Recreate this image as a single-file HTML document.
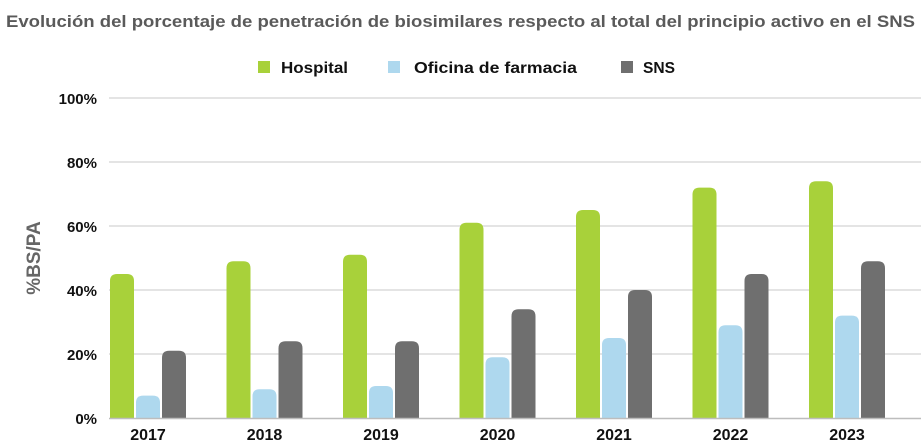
<!DOCTYPE html>
<html><head><meta charset="utf-8"><style>
body{margin:0;background:#fff;width:921px;height:441px;overflow:hidden;font-family:"Liberation Sans",sans-serif}
</style></head><body>
<svg width="921" height="441" xmlns="http://www.w3.org/2000/svg" font-family="Liberation Sans, sans-serif">
<text x="6" y="27" font-size="17" font-weight="bold" fill="#5a5a5a" textLength="909" lengthAdjust="spacingAndGlyphs">Evolución del porcentaje de penetración de biosimilares respecto al total del principio activo en el SNS</text>
<rect x="258" y="61" width="12" height="12" fill="#a8d13a"/><text x="281" y="73" font-size="16" font-weight="bold" fill="#111" textLength="67" lengthAdjust="spacingAndGlyphs">Hospital</text>
<rect x="388" y="61" width="12" height="12" fill="#aed8ee"/><text x="414" y="73" font-size="16" font-weight="bold" fill="#111" textLength="163" lengthAdjust="spacingAndGlyphs">Oficina de farmacia</text>
<rect x="621" y="61" width="12" height="12" fill="#6f6f6f"/><text x="643" y="73" font-size="16" font-weight="bold" fill="#111" textLength="32" lengthAdjust="spacingAndGlyphs">SNS</text>
<g stroke="#dcdcdc" stroke-width="1.5">
<line x1="109" x2="921" y1="98" y2="98"/><line x1="109" x2="921" y1="162" y2="162"/><line x1="109" x2="921" y1="226" y2="226"/><line x1="109" x2="921" y1="290" y2="290"/><line x1="109" x2="921" y1="354" y2="354"/>
</g>
<g font-size="15" font-weight="bold" fill="#111" text-anchor="end">
<text x="97" y="104">100%</text><text x="97" y="168">80%</text><text x="97" y="232">60%</text><text x="97" y="296">40%</text><text x="97" y="360">20%</text><text x="97" y="424">0%</text>
</g>
<text transform="translate(40,258) rotate(-90)" text-anchor="middle" font-size="19" font-weight="bold" fill="#666">%BS/PA</text>
<g id="bars"></g>
<line x1="109" x2="921" y1="418.5" y2="418.5" stroke="#bdbdbd" stroke-width="1.5"/>
<g font-size="16" font-weight="bold" fill="#111" text-anchor="middle" id="labels"></g>
<script>
var d=[[2017,45,7,21],[2018,49,9,24],[2019,51,10,24],[2020,61,19,34],[2021,65,25,40],[2022,72,29,45],[2023,74,32,49]];
var c=["#a8d13a","#aed8ee","#6f6f6f"],ns="http://www.w3.org/2000/svg",b=document.getElementById("bars"),l=document.getElementById("labels");
d.forEach(function(r,i){var x0=110+i*116.5;
for(var k=0;k<3;k++){var h=r[k+1]*3.2,x=x0+k*26,y=418-h,w=24,rr=7;
var p=document.createElementNS(ns,"path");
p.setAttribute("d","M"+x+" 418V"+(y+rr)+"Q"+x+" "+y+" "+(x+rr)+" "+y+"H"+(x+w-rr)+"Q"+(x+w)+" "+y+" "+(x+w)+" "+(y+rr)+"V418Z");
p.setAttribute("fill",c[k]);b.appendChild(p);}
var t=document.createElementNS(ns,"text");t.setAttribute("x",x0+38);t.setAttribute("y",440);t.textContent=r[0];l.appendChild(t);});
</script>
</svg>
</body></html>
